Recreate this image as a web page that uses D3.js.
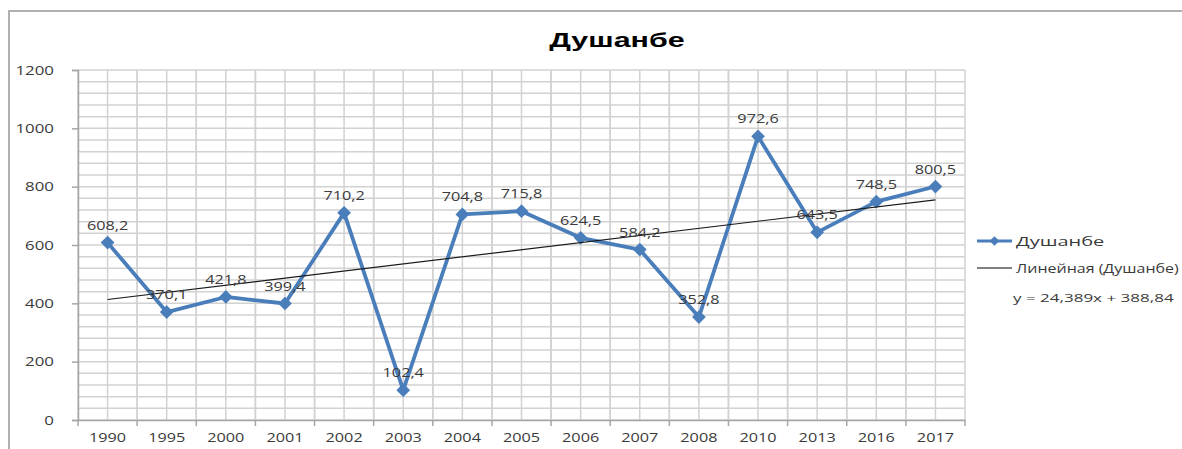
<!DOCTYPE html>
<html><head><meta charset="utf-8">
<script src="https://cdn.jsdelivr.net/npm/d3@7"></script>
<style>html,body{margin:0;padding:0;background:#fff;overflow:hidden}</style>
</head><body>
<svg id="c" width="1182" height="449"></svg>
<script>
const years = ["1990","1995","2000","2001","2002","2003","2004","2005","2006","2007","2008","2010","2013","2016","2017"];
const values = [608.2,370.1,421.8,399.4,710.2,102.4,704.8,715.8,624.5,584.2,352.8,972.6,643.5,748.5,800.5];
const yTicks = [0,200,400,600,800,1000,1200];
const trendSlope = 24.389, trendIntercept = 388.84;
const seriesName = "Душанбе";
const trendName = "Линейная (Душанбе)";
const equation = "y = 24,389x + 388,84";
const title = "Душанбе";

const svg = d3.select("#c");
const W = 1182, H = 449;
const L = 78, R = 965, T = 70, B = 420;
const font = "'Open Sans', 'Liberation Sans', sans-serif";
const blue = "#4a7ebb";
const txt = "#3a3a3a";

// horizontally stretch text elements around their anchor
function stretch(sel, s) {
  sel.each(function() {
    const t = d3.select(this);
    const tx = +t.attr("x") || 0, ty = +t.attr("y") || 0;
    t.attr("x", 0).attr("y", 0).attr("transform", `translate(${tx},${ty}) scale(${s},1)`);
  });
}

// chart border
svg.append("path").attr("d", `M9,${H} L9,11 L${W},11`).attr("fill","none").attr("stroke","#b0b0b0").attr("stroke-width",2);

const x = d3.scaleBand().domain(years).range([L, R]).padding(0);
const y = d3.scaleLinear().domain([0,1200]).range([B, T]);

// gridlines
const g = svg.append("g");
d3.range(0, 1201, 40).forEach(v => {
  g.append("line").attr("x1", L).attr("x2", R).attr("y1", y(v)).attr("y2", y(v))
    .attr("stroke", "#d2d2d2").attr("stroke-width", 1.5);
});
years.forEach(yr => {
  [x(yr), x(yr) + x.bandwidth()/2, x(yr) + x.bandwidth()].forEach(px => {
    g.append("line").attr("x1", px).attr("x2", px).attr("y1", T).attr("y2", B)
      .attr("stroke", "#d2d2d2").attr("stroke-width", 1.5);
  });
});

// y axis
const yAxis = d3.axisLeft(y).tickValues(yTicks).tickFormat(d3.format("d")).tickSize(6).tickPadding(18);
const ya = svg.append("g").attr("transform", `translate(${L},0)`).call(yAxis);
ya.select(".domain").attr("stroke", "#a6a6a6").attr("stroke-width", 1.5);
ya.selectAll(".tick line").attr("stroke", "#a6a6a6").attr("stroke-width", 1.5);
ya.selectAll("text").attr("font-family", font).attr("font-size", 12.5).attr("fill", txt);
stretch(ya.selectAll("text"), 1.35);

// x axis
const xAxis = d3.axisBottom(x).tickSize(0).tickPadding(13);
const xa = svg.append("g").attr("transform", `translate(0,${B})`).call(xAxis);
xa.select(".domain").attr("stroke", "#a6a6a6").attr("stroke-width", 1.5);
xa.selectAll("text").attr("font-family", font).attr("font-size", 12.5).attr("fill", txt);
stretch(xa.selectAll("text"), 1.3);
years.concat(["end"]).forEach((yr, i) => {
  const px = i < years.length ? x(yr) : R;
  xa.append("line").attr("x1", px).attr("x2", px).attr("y1", 0).attr("y2", 6)
    .attr("stroke", "#a6a6a6").attr("stroke-width", 1.5);
});

const cx = (d, i) => x(years[i]) + x.bandwidth()/2;

// series line
const line = d3.line().x((d,i) => cx(d,i)).y(d => y(d));
svg.append("path").datum(values).attr("d", line).attr("fill","none")
  .attr("stroke", blue).attr("stroke-width", 3.8).attr("stroke-linejoin","round");

// markers
const diamond = d3.symbol().type(d3.symbolDiamond2).size(120);
svg.append("g").selectAll("path").data(values).join("path")
  .attr("d", diamond).attr("transform", (d,i) => `translate(${cx(d,i)},${y(d)})`)
  .attr("fill", blue);

// trend line
const tr = i => trendSlope * (i+1) + trendIntercept;
svg.append("line")
  .attr("x1", cx(null,0)).attr("y1", y(tr(0)))
  .attr("x2", cx(null,years.length-1)).attr("y2", y(tr(years.length-1)))
  .attr("stroke", "#1a1a1a").attr("stroke-width", 1.2);

// data labels
const lbl = svg.append("g").selectAll("text").data(values).join("text")
  .attr("x", (d,i) => cx(d,i)).attr("y", d => y(d) - 13)
  .attr("text-anchor","middle").attr("font-family", font).attr("font-size", 12.5)
  .attr("fill", txt)
  .text(d => d.toFixed(1).replace(".", ","));
stretch(lbl, 1.3);

// title
const tt = svg.append("text").attr("x", 617).attr("y", 47).attr("text-anchor","middle")
  .attr("font-family","'Liberation Sans', Arial, sans-serif").attr("font-weight","bold")
  .attr("font-size", 21).attr("fill","#000").text(title);
stretch(tt, 1.45);

// legend
const lg = svg.append("g");
lg.append("line").attr("x1", 977).attr("x2", 1012).attr("y1", 241).attr("y2", 241)
  .attr("stroke", blue).attr("stroke-width", 3);
lg.append("path").attr("d", d3.symbol().type(d3.symbolDiamond2).size(60))
  .attr("transform","translate(994.5,241)").attr("fill", blue);
const l1 = lg.append("text").attr("x", 1016).attr("y", 245.5).attr("font-family", font).attr("font-size", 12.5)
  .attr("fill", txt).text(seriesName);
stretch(l1, 1.6);
lg.append("line").attr("x1", 977).attr("x2", 1012).attr("y1", 268).attr("y2", 268)
  .attr("stroke", "#808080").attr("stroke-width", 2);
const l2 = lg.append("text").attr("x", 1016).attr("y", 272.5).attr("font-family", font).attr("font-size", 12.5)
  .attr("fill", txt).text(trendName);
stretch(l2, 1.28);
const l3 = lg.append("text").attr("x", 1013).attr("y", 302).attr("font-family", font).attr("font-size", 11.5)
  .attr("fill", txt).text(equation);
stretch(l3, 1.48);
</script>
</body></html>
